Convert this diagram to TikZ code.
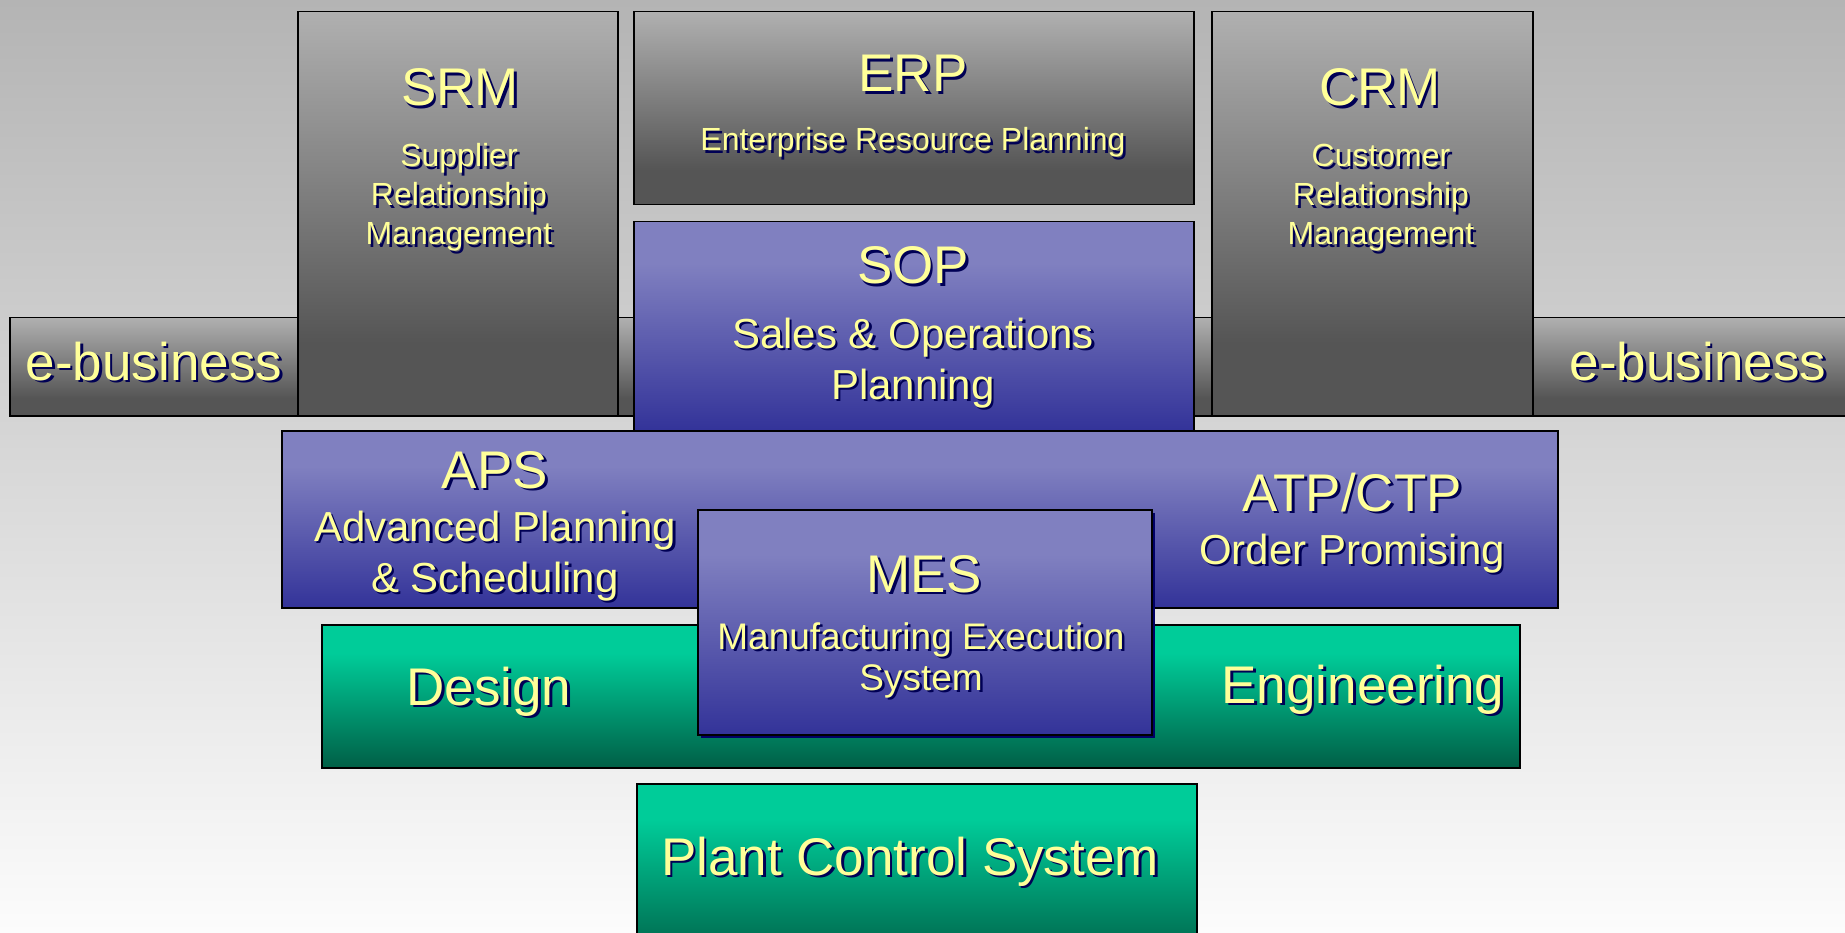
\documentclass[tikz,border=0pt]{standalone}
\usepackage{fontspec}
\setmainfont{Liberation Sans}
\usetikzlibrary{shadows}

\definecolor{bgtop}{HTML}{B4B4B4}
\definecolor{bgbot}{HTML}{FCFCFC}
\definecolor{graylight}{HTML}{B0B0B0}
\definecolor{graydark}{HTML}{555555}
\definecolor{bluetop}{HTML}{8080C0}
\definecolor{bluebot}{HTML}{333399}
\definecolor{greentop}{HTML}{00CC99}
\definecolor{greenbot}{HTML}{005F46}
\definecolor{captext}{HTML}{FFFF99}
\definecolor{capshadow}{HTML}{000055}
\definecolor{messhadow}{HTML}{000066}

\pgfdeclareverticalshading{grayfade}{100bp}{color(0bp)=(graydark); color(25bp)=(graydark); color(34bp)=(graydark); color(75bp)=(graylight); color(100bp)=(graylight)}
\pgfdeclareverticalshading{bluefade}{100bp}{color(0bp)=(bluebot); color(25bp)=(bluebot); color(65bp)=(bluetop); color(100bp)=(bluetop)}
\pgfdeclareverticalshading{greenfade}{100bp}{color(0bp)=(greenbot); color(25bp)=(greenbot); color(65bp)=(greentop); color(100bp)=(greentop)}

\tikzset{
  block/.style={draw=black, line width=1.5pt, inner sep=0pt, anchor=north west},
  grayblock/.style={block, shading=grayfade},
  blueblock/.style={block, shading=bluefade},
  greenblock/.style={block, shading=greenfade},
  caption/.style={text=captext, inner sep=0pt, anchor=base, align=center},
  captionshadow/.style={caption, text=capshadow},
  bigtext/.style={font=\fontsize{53}{60}\selectfont},
  midtext/.style={font=\fontsize{42}{51}\selectfont},
  mestext/.style={font=\fontsize{37}{41}\selectfont},
  smalltext/.style={font=\fontsize{32}{39}\selectfont}
}

% yellow text with its dark shadow: name, style, position (of the last line), text
\newcommand{\yellowtext}[4]{%
  \node[captionshadow, #2] (#1-shadow) at ([shift={(2.5,2.5)}]#3) {#4};
  \node[caption, #2] (#1) at (#3) {#4};}

\begin{document}
\begin{tikzpicture}[x=1pt, y=-1pt]
  \useasboundingbox (0,0) rectangle (1845,933);
  \clip (0,0) rectangle (1845,933);
  \shade[top color=bgtop, bottom color=bgbot] (0,0) rectangle (1845,933);

  % boxes
  \node[grayblock, minimum width=1861pt, minimum height=98pt] (ebiz) at (9,317) {};
  \node[grayblock, minimum width=320pt, minimum height=404pt] (srm) at (297,11) {};
  \node[grayblock, minimum width=321pt, minimum height=404pt] (crm) at (1211,11) {};
  \node[grayblock, minimum width=560pt, minimum height=193pt] (erp) at (633,11) {};
  \node[blueblock, minimum width=560pt, minimum height=209pt] (sop) at (633,221) {};
  \node[blueblock, minimum width=1276pt, minimum height=177pt] (aps) at (281,430) {};
  \node[greenblock, minimum width=1198pt, minimum height=143pt] (design) at (321,624) {};
  \node[blueblock, minimum width=454pt, minimum height=225pt,
    drop shadow={shadow xshift=3pt, shadow yshift=-3pt, fill=messhadow, opacity=1}] (mes) at (697,509) {};
  \node[greenblock, minimum width=560pt, minimum height=180pt] (pcs) at (636,783) {};

  % labels
  \yellowtext{ebizleft}{bigtext}{154,380}{e-business}
  \yellowtext{ebizright}{bigtext}{1698,380}{e-business}
  \yellowtext{srmtitle}{bigtext}{460,106}{SRM}
  \yellowtext{srmtext}{smalltext}{459,245}{Supplier\\Relationship\\Management}
  \yellowtext{crmtitle}{bigtext}{1380,106}{CRM}
  \yellowtext{crmtext}{smalltext}{1381,245}{Customer\\Relationship\\Management}
  \yellowtext{erptitle}{bigtext}{913,92}{ERP}
  \yellowtext{erptext}{smalltext}{913,151}{Enterprise Resource Planning}
  \yellowtext{soptitle}{bigtext}{913,284}{SOP}
  \yellowtext{soptext}{midtext}{913,399}{Sales \& Operations\\Planning}
  \yellowtext{apstitle}{bigtext}{495,488}{APS}
  \yellowtext{apstext}{midtext}{495,592}{Advanced Planning\\\& Scheduling}
  \yellowtext{atptitle}{bigtext}{1352,511}{ATP/CTP}
  \yellowtext{atptext}{midtext}{1352,564}{Order Promising}
  \yellowtext{mestitle}{bigtext}{924,592}{MES}
  \yellowtext{mestext}{mestext}{921,690}{Manufacturing Execution\\System}
  \yellowtext{designtext}{bigtext}{489,705}{Design}
  \yellowtext{engtext}{bigtext}{1363,703}{Engineering}
  \yellowtext{pcstext}{bigtext}{910,875}{Plant Control System}
\end{tikzpicture}
\end{document}
